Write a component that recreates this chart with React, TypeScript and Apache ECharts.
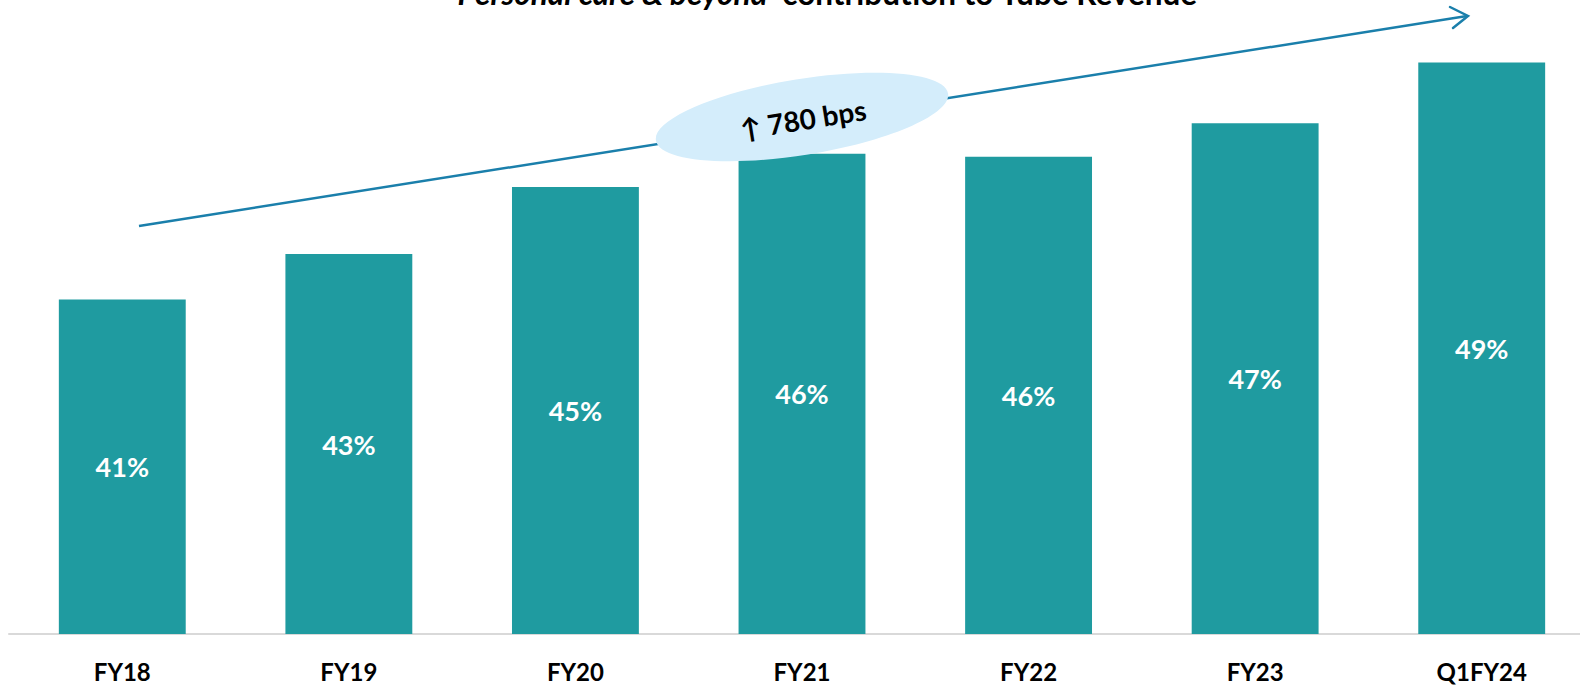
import React, { useEffect, useRef } from "react";
import * as echarts from "echarts";

const categories = ["FY18", "FY19", "FY20", "FY21", "FY22", "FY23", "Q1FY24"];
const shareValues = [41.0, 42.5, 44.7, 45.8, 45.7, 46.8, 48.8];
const shareLabels = ["41%", "43%", "45%", "46%", "46%", "47%", "49%"];
const changeText = "780 bps";

export default function App() {
  const ref = useRef<HTMLDivElement>(null);
  useEffect(() => {
    document.body.style.margin = "0";
    const chart = echarts.init(ref.current!, null, { renderer: "svg" });
    const font = "Lato, 'Open Sans', sans-serif";
    chart.setOption({
      animation: false,
      grid: {
        left: 9,
        top: 26,
        width: 1586,
        height: 608,
        containLabel: false,
        outerBoundsMode: "none",
      },
      xAxis: {
        type: "category",
        data: categories,
        axisLine: { show: true, lineStyle: { color: "#d9d9d9", width: 2 } },
        axisTick: { show: false },
        axisLabel: {
          color: "#000",
          fontWeight: "bold",
          fontSize: 24,
          fontFamily: font,
          margin: 25,
        },
      },
      yAxis: {
        type: "value",
        min: 30,
        max: 50,
        show: false,
        splitLine: { show: false },
      },
      series: [
        {
          type: "bar",
          data: shareValues,
          barCategoryGap: "44%",
          itemStyle: { color: "#1f9ba0" },
          label: {
            show: true,
            position: "inside",
            color: "#fff",
            fontWeight: "bold",
            fontSize: 27,
            fontFamily: font,
            formatter: (p: any) => shareLabels[p.dataIndex],
          },
        },
      ],
      graphic: [
        {
          type: "text",
          left: 446,
          top: -23,
          style: {
            text: "{i|“Personal care & beyond”} {n|contribution to Tube Revenue}",
            rich: {
              i: { fontStyle: "italic", fontWeight: "bold", fontSize: 31.5, fontFamily: font, fill: "#000" },
              n: { fontWeight: "bold", fontSize: 31.5, fontFamily: font, fill: "#000" },
            },
          },
        },
        {
          type: "polyline",
          shape: { points: [[139, 226], [1467, 16]] },
          style: { stroke: "#1a7fab", lineWidth: 2.5, fill: null },
          z: 10,
        },
        {
          type: "polyline",
          shape: { points: [[1450, 7], [1468, 16], [1453, 28]] },
          style: { stroke: "#1a7fab", lineWidth: 2.5, fill: null, lineCap: "round", lineJoin: "miter" },
          z: 10,
        },
        {
          type: "ellipse",
          x: 802,
          y: 117,
          rotation: 0.16,
          shape: { cx: 0, cy: 0, rx: 148, ry: 38 },
          style: { fill: "#d4edfb" },
          z: 20,
        },
        {
          type: "text",
          x: 803,
          y: 119,
          rotation: 0.16,
          style: {
            text: "↑ " + changeText,
            fontSize: 28,
            fontWeight: "bold",
            fontFamily: font,
            fill: "#000",
            align: "center",
            verticalAlign: "middle",
          },
          z: 21,
        },
      ],
    });
    return () => chart.dispose();
  }, []);
  return <div ref={ref} style={{ width: 1580, height: 685 }} />;
}
